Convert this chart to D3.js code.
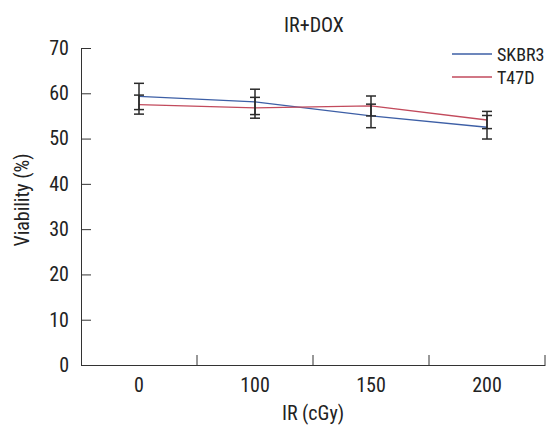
<!DOCTYPE html>
<html>
<head>
<meta charset="utf-8">
<script src="https://cdn.jsdelivr.net/npm/d3@7"></script>
<style>
  body { margin: 0; background: #fff; }
  text { font-family: "Liberation Sans Narrow", "Roboto Condensed", "Liberation Sans", Arial, sans-serif; fill: #222; }
</style>
</head>
<body>
<div id="chart"></div>
<script>
    // data
    var doses = ["0", "100", "150", "200"];
    var skbr3 = [59.3, 58.1, 55.0, 52.5];
    var skbr3Err = [2.9, 2.8, 2.6, 2.6];
    var t47d = [57.5, 56.8, 57.2, 54.1];
    var t47dErr = [2.1, 2.3, 2.2, 1.9];
    var yTicks = [0, 10, 20, 30, 40, 50, 60, 70];

    var series = [
        {name: "SKBR3", values: skbr3, err: skbr3Err, color: "#3d5fa6"},
        {name: "T47D", values: t47d, err: t47dErr, color: "#c24a5c"}
    ];

    var width = 547, height = 426;
    var plotLeft = 81, plotRight = 545, plotTop = 48, plotBottom = 365;

    var svg = d3.select("#chart").append("svg")
        .attr("width", width)
        .attr("height", height);

    var x = d3.scaleBand().domain(doses).range([plotLeft, plotRight]).padding(0);
    var y = d3.scaleLinear().domain([0, 70]).range([plotBottom, plotTop]);

    // y axis, ticks pointing inward
    var yAxis = svg.append("g")
        .attr("transform", "translate(" + plotLeft + ",0)")
        .call(d3.axisLeft(y).tickValues(yTicks).tickSizeInner(-10).tickSizeOuter(0).tickPadding(12));
    yAxis.select(".domain").attr("stroke", "#333");
    yAxis.selectAll(".tick line").attr("stroke", "#333");
    yAxis.selectAll("text").style("font-size", "20px").attr("fill", "#222");

    // x axis, labels centered in bands, ticks at band edges
    var xAxis = svg.append("g")
        .attr("transform", "translate(0," + plotBottom + ")")
        .call(d3.axisBottom(x).tickSize(0).tickPadding(13));
    xAxis.select(".domain").attr("stroke", "#333");
    xAxis.selectAll("text").style("font-size", "20px").attr("fill", "#222");

    svg.append("g").selectAll("line")
        .data(doses)
        .enter().append("line")
        .attr("x1", function (d) { return x(d) + x.bandwidth(); })
        .attr("x2", function (d) { return x(d) + x.bandwidth(); })
        .attr("y1", plotBottom)
        .attr("y2", plotBottom - 10)
        .attr("stroke", "#333");

    // lines
    var line = d3.line()
        .x(function (d, i) { return x(doses[i]) + x.bandwidth() / 2; })
        .y(function (d) { return y(d); });

    svg.append("g").selectAll("path")
        .data(series)
        .enter().append("path")
        .attr("d", function (s) { return line(s.values); })
        .attr("fill", "none")
        .attr("stroke", function (s) { return s.color; })
        .attr("stroke-width", 1.3);

    // error bars on top
    series.forEach(function (s) {
        var g = svg.append("g").attr("stroke", "#2a2a2a").attr("stroke-width", 1.5);
        s.values.forEach(function (v, i) {
            var cx = x(doses[i]) + x.bandwidth() / 2;
            var hi = y(v + s.err[i]), lo = y(v - s.err[i]);
            g.append("line").attr("x1", cx).attr("x2", cx).attr("y1", hi).attr("y2", lo);
            g.append("line").attr("x1", cx - 5).attr("x2", cx + 5).attr("y1", hi).attr("y2", hi);
            g.append("line").attr("x1", cx - 5).attr("x2", cx + 5).attr("y1", lo).attr("y2", lo);
        });
    });

    // title
    svg.append("text")
        .attr("x", 314)
        .attr("y", 32)
        .attr("text-anchor", "middle")
        .style("font-size", "20px")
        .text("IR+DOX");

    // axis titles
    svg.append("text")
        .attr("x", 313)
        .attr("y", 420)
        .attr("text-anchor", "middle")
        .style("font-size", "20px")
        .text("IR (cGy)");

    svg.append("text")
        .attr("transform", "translate(29,200) rotate(-90)")
        .attr("text-anchor", "middle")
        .style("font-size", "20px")
        .text("Viability (%)");

    // legend
    var legend = svg.append("g").selectAll("g")
        .data(series)
        .enter().append("g")
        .attr("transform", function (d, i) { return "translate(452," + (54 + i * 23) + ")"; });
    legend.append("line")
        .attr("x1", 0).attr("x2", 40)
        .attr("stroke", function (d) { return d.color; })
        .attr("stroke-width", 1.3);
    legend.append("text")
        .attr("x", 45)
        .attr("y", 7)
        .style("font-size", "18px")
        .text(function (d) { return d.name; });
</script>
</body>
</html>
